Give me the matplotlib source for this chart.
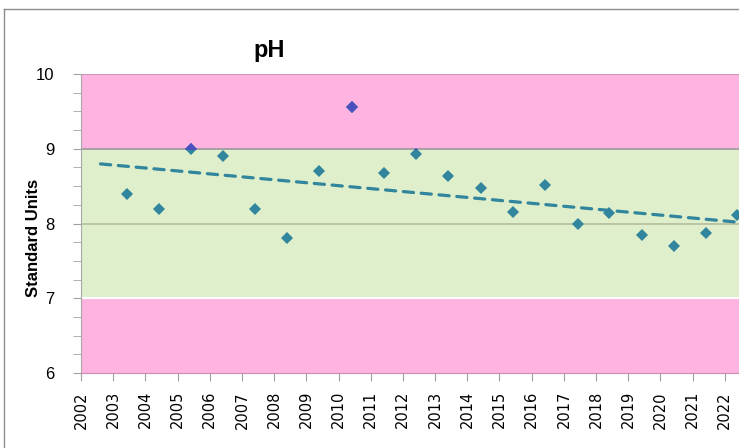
import datetime as dt
import numpy as np
import matplotlib
matplotlib.use("Agg")
import matplotlib.pyplot as plt
import matplotlib.dates as mdates
from matplotlib.patches import Rectangle
from matplotlib.lines import Line2D

# sample dates (roughly once a year, early summer) and pH readings
sample_dates = ["2003-06-03", "2004-06-03", "2005-06-03", "2006-05-31", "2007-05-31",
                "2008-05-30", "2009-05-24", "2010-06-06", "2011-06-02", "2012-06-02",
                "2013-05-31", "2014-05-31", "2015-05-31", "2016-06-06", "2017-06-06",
                "2018-06-02", "2019-06-02", "2020-06-02", "2021-05-31", "2022-05-24"]
ph_values = [8.40, 8.20, 9.00, 8.90, 8.20, 7.80, 8.70, 9.56, 8.68, 8.93,
             8.64, 8.48, 8.16, 8.52, 7.99, 8.14, 7.85, 7.70, 7.87, 8.11]
tick_years = list(range(2002, 2023))

ph_low, ph_high = 7, 9          # acceptable range
y_min, y_max = 6, 10
trend_start = "2002-08-10"

teal = "#31859C"
violet = "#4B50BE"
pink = "#FFB3E0"
green = "#DFEFCB"

W, H = 739, 448
fig = plt.figure(figsize=(W / 100, H / 100), dpi=100)
ax = fig.add_axes([81 / W, (H - 373) / H, 676 / W, 299 / H])

dates = mdates.date2num([dt.datetime.strptime(d, "%Y-%m-%d") for d in sample_dates])
x0 = mdates.date2num(dt.datetime(2002, 1, 1))
x1 = mdates.date2num(dt.datetime(2023, 1, 1))

# background bands
ax.axhspan(y_min, ph_low, color=pink, lw=0, zorder=0)
ax.axhspan(ph_low, ph_high, color=green, lw=0, zorder=0)
ax.axhspan(ph_high, y_max, color=pink, lw=0, zorder=0)
ax.axhline(8, color="#B4BC9C", lw=1.2, zorder=1)
ax.axhline(9, color="#9A9A9A", lw=1.2, zorder=1)
ax.axhline(7, color="white", lw=1.5, zorder=1)
ax.axhline(10, color="#C68EB4", lw=1.2, zorder=1)

# linear trend (least squares on date numbers)
slope, icpt = np.polyfit(dates, ph_values, 1)
tx = np.array([mdates.date2num(dt.datetime.strptime(trend_start, "%Y-%m-%d")), x1])
ax.plot(tx, slope * tx + icpt, color=teal, lw=2.3, linestyle=(0, (3.2, 2.4)),
        dash_capstyle="round", zorder=2)

# markers; anything above the upper limit shows in violet
ax.plot(dates, ph_values, linestyle="none", marker="D", ms=6.2, mew=0,
        color=teal, zorder=3)
hi = ax.plot(dates, ph_values, linestyle="none", marker="D", ms=6.2, mew=0,
             color=violet, zorder=4)[0]
clip = Rectangle((x0, ph_high), x1 - x0, y_max - ph_high + 1, transform=ax.transData)
hi.set_clip_path(clip)

ax.set_xlim(x0, x1)
ax.set_ylim(y_min, y_max)
ax.set_xticks(mdates.date2num([dt.datetime(y, 1, 1) for y in tick_years]))
ax.set_xticklabels([str(y) for y in tick_years])
ax.set_yticks(range(6, 11))
ax.set_yticks(np.arange(6, 10.01, 0.25), minor=True)
ax.tick_params(axis="x", which="major", length=6, color="#A0A0A0", rotation=90,
               labelsize=10.5, pad=7)
ax.tick_params(axis="y", which="both", length=6, color="#A0A0A0", pad=13)
for lb in ax.get_xticklabels():
    lb.set_family("DejaVu Sans")
for lb in ax.get_yticklabels():
    lb.set_family("Liberation Sans")
    lb.set_fontsize(12)

for s in ["top", "right"]:
    ax.spines[s].set_visible(False)
ax.spines["left"].set_color("#A8A8A8")
ax.spines["bottom"].set_color("#C68EB4")

fig.text(269 / W, 1 - 50 / H, "pH", ha="center", va="center",
         fontsize=17, fontweight="bold", family="Liberation Sans")
fig.text(34 / W, 1 - 238 / H, "Standard Units", ha="center", va="center",
         rotation=90, fontsize=12, fontweight="bold", family="Liberation Sans")

# chart frame
fig.add_artist(Line2D([4 / W, 1], [1 - 9 / H, 1 - 9 / H], color="#8C8C8C", lw=1))
fig.add_artist(Line2D([4 / W, 4 / W], [0, 1 - 9 / H], color="#8C8C8C", lw=1))

fig.savefig("out.png", dpi=100)
